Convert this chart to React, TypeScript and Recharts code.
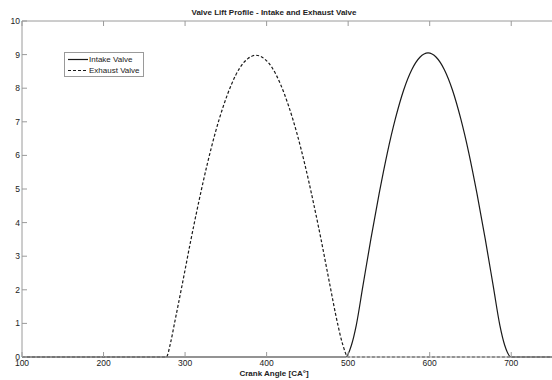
import React from "react";
import { LineChart, Line, XAxis, YAxis } from "recharts";

const TITLE = "Valve Lift Profile - Intake and Exhaust Valve";
const X_LABEL = "Crank Angle [CA°]";

const xTicks = [100, 200, 300, 400, 500, 600, 700];
const yTicks = [0, 1, 2, 3, 4, 5, 6, 7, 8, 9, 10];

const intakeAngle = [100, 497, 504, 510, 518, 528, 538, 548, 558, 568, 578, 588, 598, 608, 618, 628, 638, 648, 658, 668, 678, 686, 692, 700, 750];
const intakeLift = [0, 0, 0.35, 0.95, 2.1, 3.53, 4.86, 6.07, 7.1, 7.94, 8.55, 8.92, 9.05, 8.92, 8.55, 7.94, 7.1, 6.07, 4.86, 3.53, 2.1, 0.95, 0.35, 0, 0];

const exhaustAngle = [100, 277, 282, 287, 297, 307, 317, 327, 337, 347, 357, 367, 377, 387, 397, 407, 417, 427, 437, 447, 457, 467, 477, 487, 493, 500, 750];
const exhaustLift = [0, 0, 0.4, 1.0, 2.22, 3.47, 4.64, 5.72, 6.67, 7.47, 8.12, 8.6, 8.88, 8.98, 8.88, 8.6, 8.12, 7.47, 6.67, 5.72, 4.64, 3.47, 2.22, 1.0, 0.4, 0, 0];

const seriesNames = ["Intake Valve", "Exhaust Valve"];

const intakeData = intakeAngle.map((a, i) => ({ angle: a, lift: intakeLift[i] }));
const exhaustData = exhaustAngle.map((a, i) => ({ angle: a, lift: exhaustLift[i] }));

const FONT = "'Liberation Sans', Arial, sans-serif";
const AXIS_COLOR = "#9a9a9a";
const TEXT_COLOR = "#222";
const LINE_COLOR = "#1a1a1a";

const BottomTick = (props: any) => {
  const { x, y, payload } = props;
  return (
    <g>
      <line x1={x} y1={y} x2={x} y2={y - 5} stroke={AXIS_COLOR} strokeWidth={1} />
      <text x={x} y={y + 9} textAnchor="middle" fontSize={8.5} fontFamily={FONT} fill={TEXT_COLOR}>
        {payload.value}
      </text>
    </g>
  );
};

const TopTick = (props: any) => {
  const { x, y } = props;
  return <line x1={x} y1={y} x2={x} y2={y + 5} stroke={AXIS_COLOR} strokeWidth={1} />;
};

const LeftTick = (props: any) => {
  const { x, y, payload } = props;
  return (
    <g>
      <line x1={x} y1={y} x2={x + 5} y2={y} stroke={AXIS_COLOR} strokeWidth={1} />
      <text x={x - 2} y={y + 3} textAnchor="end" fontSize={8.5} fontFamily={FONT} fill={TEXT_COLOR}>
        {payload.value}
      </text>
    </g>
  );
};

const LegendBox = () => (
  <div
    style={{
      position: "absolute",
      left: 64,
      top: 52,
      border: "1px solid #9a9a9a",
      background: "#fff",
      width: 80,
      height: 25,
      boxSizing: "border-box",
      padding: "1px 3px",
      fontFamily: FONT,
      fontSize: 8,
      color: TEXT_COLOR,
      lineHeight: "11px",
      whiteSpace: "nowrap",
    }}
  >
    <div style={{ display: "flex", alignItems: "center" }}>
      <svg width={20} height={11}>
        <line x1={0} y1={5.5} x2={20} y2={5.5} stroke={LINE_COLOR} strokeWidth={1.2} />
      </svg>
      <span style={{ marginLeft: 1 }}>{seriesNames[0]}</span>
    </div>
    <div style={{ display: "flex", alignItems: "center" }}>
      <svg width={20} height={11}>
        <line x1={0} y1={5.5} x2={20} y2={5.5} stroke={LINE_COLOR} strokeWidth={1.2} strokeDasharray="3 2" />
      </svg>
      <span style={{ marginLeft: 1 }}>{seriesNames[1]}</span>
    </div>
  </div>
);

export default function App() {
  return (
    <div style={{ position: "absolute", left: 0, top: 0, width: 552, height: 380, background: "#fff" }}>
      <LineChart width={552} height={380} margin={{ top: 0, right: 0, bottom: 0, left: 0 }}>
        <XAxis
          xAxisId="bottom"
          type="number"
          dataKey="angle"
          domain={[100, 750]}
          ticks={xTicks}
          allowDataOverflow
          height={23}
          tickSize={0}
          tickMargin={0}
          tickLine={false}
          axisLine={{ stroke: AXIS_COLOR }}
          tick={<BottomTick />}
          interval={0}
        />
        <XAxis
          xAxisId="top"
          orientation="top"
          type="number"
          dataKey="angle"
          domain={[100, 750]}
          ticks={xTicks}
          allowDataOverflow
          height={21}
          tickSize={0}
          tickMargin={0}
          tickLine={false}
          axisLine={{ stroke: AXIS_COLOR }}
          tick={<TopTick />}
          interval={0}
        />
        <YAxis
          type="number"
          domain={[0, 10]}
          ticks={yTicks}
          width={22}
          tickSize={0}
          tickMargin={0}
          tickLine={false}
          axisLine={{ stroke: AXIS_COLOR }}
          tick={<LeftTick />}
          interval={0}
        />
        <Line
          xAxisId="bottom"
          data={intakeData}
          dataKey="lift"
          name={seriesNames[0]}
          type="monotone"
          stroke={LINE_COLOR}
          strokeWidth={1.2}
          dot={false}
          activeDot={false}
          isAnimationActive={false}
        />
        <Line
          xAxisId="bottom"
          data={exhaustData}
          dataKey="lift"
          name={seriesNames[1]}
          type="monotone"
          stroke={LINE_COLOR}
          strokeWidth={1.2}
          strokeDasharray="3 2"
          dot={false}
          activeDot={false}
          isAnimationActive={false}
        />
      </LineChart>
      <LegendBox />
      <div
        style={{
          position: "absolute",
          left: 274,
          top: 8,
          transform: "translateX(-50%)",
          whiteSpace: "nowrap",
          fontFamily: FONT,
          fontSize: 8,
          fontWeight: "bold",
          color: TEXT_COLOR,
          lineHeight: "10px",
        }}
      >
        {TITLE}
      </div>
      <div
        style={{
          position: "absolute",
          left: 274,
          top: 369,
          transform: "translateX(-50%)",
          whiteSpace: "nowrap",
          fontFamily: FONT,
          fontSize: 8,
          fontWeight: "bold",
          color: TEXT_COLOR,
          lineHeight: "10px",
        }}
      >
        {X_LABEL}
      </div>
    </div>
  );
}
